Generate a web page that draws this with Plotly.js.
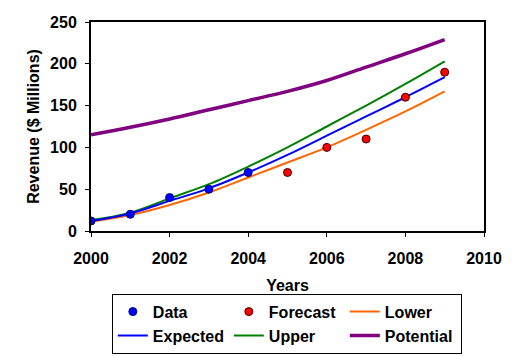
<!DOCTYPE html>
<html><head><meta charset="utf-8">
<script src="https://cdn.plot.ly/plotly-3.0.1.min.js"></script>
<style>html,body{margin:0;padding:0;background:#fff}#c{width:522px;height:356px}</style>
</head><body><div id="c"></div>
<script>
const dataYears = [2000, 2001, 2002, 2003, 2004];
const dataValues = [12, 20, 40, 50, 70];
const forecastYears = [2005, 2006, 2007, 2008, 2009];
const forecastValues = [70, 100, 110, 160, 190];
const lineYears = [2000, 2001, 2002, 2003, 2004, 2005, 2006, 2007, 2008, 2009];
const lowerValues = [11, 19, 31, 46, 64, 82, 100, 121, 143, 167];
const expectedValues = [12, 21, 36, 51, 70, 91, 114, 137, 160, 184];
const upperValues = [13, 22, 39, 56, 77, 100, 125, 150, 176, 203];
const potentialValues = [115, 124, 134, 145, 156, 167, 180, 196, 212, 229];

const F = 'Liberation Sans, Arial, sans-serif';
const traces = [
  {x: lineYears, y: potentialValues, name: 'Potential', mode: 'lines', line: {color: '#800080', width: 3.5, shape: 'spline'}, legendrank: 6},
  {x: lineYears, y: upperValues, name: 'Upper', mode: 'lines', line: {color: '#008000', width: 2, shape: 'spline'}, legendrank: 5},
  {x: lineYears, y: lowerValues, name: 'Lower', mode: 'lines', line: {color: '#ff6600', width: 2, shape: 'spline'}, legendrank: 3},
  {x: lineYears, y: expectedValues, name: 'Expected', mode: 'lines', line: {color: '#0000ff', width: 2, shape: 'spline'}, legendrank: 4},
  {x: dataYears, y: dataValues, name: 'Data', mode: 'markers', marker: {color: '#0000ff', size: 8, line: {color: '#000080', width: 1}}, legendrank: 1},
  {x: forecastYears, y: forecastValues, name: 'Forecast', mode: 'markers', marker: {color: '#ff0000', size: 8, line: {color: '#400000', width: 1}}, legendrank: 2}
];
const fnt = {family: F, size: 16, weight: 'bold', color: '#000'};
const layout = {
  width: 522, height: 356,
  margin: {l: 91, r: 38, t: 22, b: 125, autoexpand: false},
  paper_bgcolor: '#fff', plot_bgcolor: '#fff',
  font: fnt,
  showlegend: true,
  xaxis: {range: [2000, 2010], dtick: 2, tick0: 2000, showgrid: false, zeroline: false,
    showline: true, linecolor: '#000', linewidth: 2, mirror: true,
    ticks: 'outside', ticklen: 4, tickwidth: 1, tickcolor: '#000', ticklabelstandoff: 8,
    tickfont: fnt,
    title: {text: 'Years', font: fnt, standoff: 14}},
  yaxis: {range: [0, 250], dtick: 50, showgrid: false, zeroline: false,
    showline: true, linecolor: '#000', linewidth: 2, mirror: true,
    ticks: 'outside', ticklen: 4, tickwidth: 1, tickcolor: '#000', ticklabelstandoff: 5,
    tickfont: fnt,
    title: {text: 'Revenue ($ Millions)', font: fnt, standoff: 6}},
  legend: {orientation: 'h', x: 0.053, xanchor: 'left', y: -0.30, yanchor: 'top',
    bordercolor: '#000', borderwidth: 1, bgcolor: '#fff',
    entrywidth: 71, entrywidthmode: 'pixels', traceorder: 'normal',
    font: fnt}
};
Plotly.newPlot('c', traces, layout, {staticPlot: true});
</script></body></html>
